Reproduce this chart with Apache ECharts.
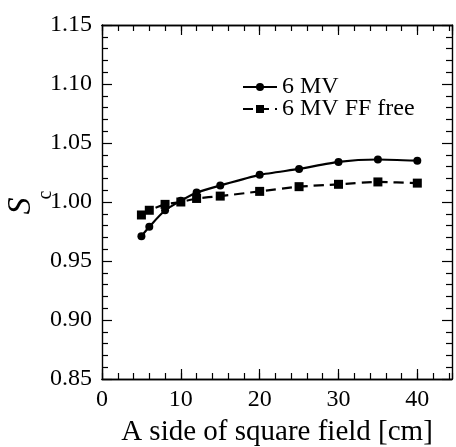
<!DOCTYPE html>
<html>
<head>
<meta charset="utf-8">
<script src="https://cdn.jsdelivr.net/npm/echarts@6/dist/echarts.min.js"></script>
<style>
  html, body { margin: 0; padding: 0; background: #fff; }
  #main { width: 456px; height: 447px; }
</style>
</head>
<body>
<div id="main"></div>
<script>
// field sizes (cm) and S_c values
const fieldSizes = [5, 6, 8, 10, 12, 15, 20, 25, 30, 35, 40]
const sc6MV = [0.971, 0.979, 0.993, 1.001, 1.008, 1.014, 1.023, 1.028, 1.034, 1.036, 1.035]
const sc6MVFFF = [0.989, 0.993, 0.998, 1.000, 1.003, 1.005, 1.009, 1.013, 1.015, 1.017, 1.016]
const seriesNames = ['6 MV', '6 MV FF free']

const FONT = '"Liberation Serif", "Times New Roman", serif'

const pairs = (ys) => fieldSizes.map((x, i) => [x, ys[i]])

// x axis helper: major (every 10) or minor (every 2) ticks
function xAx(pos, interval, len, labels) {
  return {
    type: 'value', position: pos, min: 0, max: 44.4, interval: interval,
    axisLine: { show: true, onZero: false, lineStyle: { color: '#000', width: 1.4 } },
    axisTick: { show: true, inside: true, length: len, lineStyle: { color: '#000', width: 1.2 } },
    axisLabel: {
      show: labels, margin: 9, showMaxLabel: false,
      color: '#000', fontSize: 24, fontFamily: FONT
    },
    splitLine: { show: false },
    name: labels ? 'A side of square field [cm]' : '',
    nameLocation: 'middle', nameGap: 39,
    nameTextStyle: { color: '#000', fontSize: 29, fontFamily: FONT, verticalAlign: 'top' }
  }
}

function yAx(pos, labels) {
  return {
    type: 'value', position: pos, min: 0.85, max: 1.15, interval: 0.05,
    axisLine: { show: true, onZero: false, lineStyle: { color: '#000', width: 1.4 } },
    axisTick: { show: true, inside: true, length: 10, lineStyle: { color: '#000', width: 1.2 } },
    minorTick: { show: true, splitNumber: 5, length: 6, lineStyle: { color: '#000', width: 1.2 } },
    axisLabel: {
      show: labels, margin: 10, color: '#000', fontSize: 24, fontFamily: FONT,
      formatter: (v) => v.toFixed(2)
    },
    splitLine: { show: false },
    minorSplitLine: { show: false }
  }
}

const chart = echarts.init(document.getElementById('main'))

chart.setOption({
  animation: false,
  backgroundColor: '#fff',
  grid: { left: 102, right: 4, top: 25, bottom: 68, outerBoundsMode: 'none', containLabel: false },
  xAxis: [
    xAx('bottom', 10, 10, true),
    xAx('bottom', 2, 6, false),
    xAx('top', 10, 10, false),
    xAx('top', 2, 6, false)
  ],
  yAxis: [yAx('left', true), yAx('right', false)],
  legend: {
    orient: 'vertical', left: 237, top: 70,
    itemWidth: 34, itemHeight: 10, itemGap: -2,
    textStyle: { color: '#000', fontSize: 24, fontFamily: FONT, lineHeight: 22 },
    data: seriesNames
  },
  graphic: [
    {
      type: 'text', x: 21, y: 206, rotation: Math.PI / 2,
      style: { text: 'S', fill: '#000', font: 'italic 34px ' + FONT, align: 'center', verticalAlign: 'middle' }
    },
    {
      type: 'text', x: 46, y: 195, rotation: Math.PI / 2,
      style: { text: 'c', fill: '#000', font: '20px ' + FONT, align: 'center', verticalAlign: 'middle' }
    }
  ],
  series: [
    {
      name: seriesNames[0], type: 'line', data: pairs(sc6MV),
      smooth: 0.2, symbol: 'circle', symbolSize: 8,
      itemStyle: { color: '#000' },
      lineStyle: { color: '#000', width: 2.2 }
    },
    {
      name: seriesNames[1], type: 'line', data: pairs(sc6MVFFF),
      smooth: 0.2, symbol: 'rect', symbolSize: 9,
      itemStyle: { color: '#000' },
      lineStyle: { color: '#000', width: 2.2, type: [10, 6] }
    }
  ]
})
</script>
</body>
</html>
